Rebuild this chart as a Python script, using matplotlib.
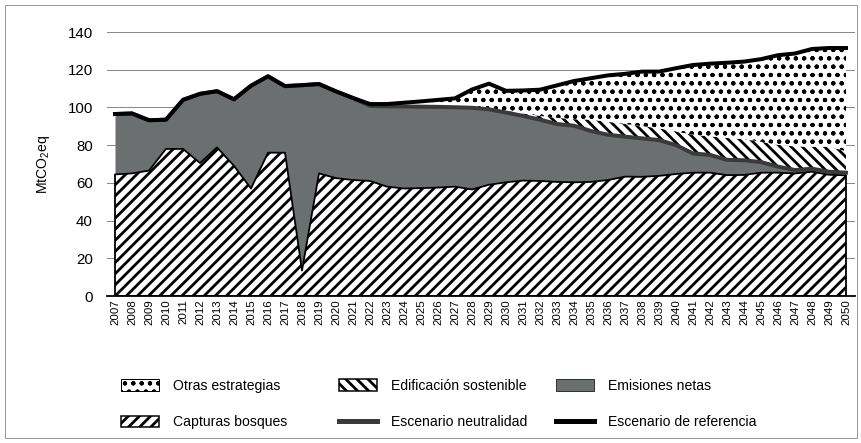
import numpy as np
import matplotlib
matplotlib.use("Agg")
import matplotlib.pyplot as plt
from matplotlib.patches import Patch, Rectangle
from matplotlib.lines import Line2D

plt.rcParams['font.family'] = ['Liberation Sans Narrow', 'Liberation Sans', 'DejaVu Sans']
plt.rcParams['mathtext.fontset'] = 'custom'
plt.rcParams['mathtext.rm'] = 'Liberation Sans'
plt.rcParams['mathtext.it'] = 'Liberation Sans'
plt.rcParams['hatch.linewidth'] = 2.0

years = list(range(2007, 2051))

capturas = [64.5, 65.0, 66.5, 78.0, 78.0, 70.5, 78.8, 69.0, 57.0, 76.0,
            76.0, 13.5, 65.0, 62.5, 61.5, 61.0, 58.0, 57.0, 57.2, 57.5,
            58.0, 56.5, 59.0, 60.3, 61.2, 61.0, 60.5, 60.3, 60.5, 61.5,
            63.3, 63.2, 63.7, 64.7, 65.4, 65.4, 64.1, 64.2, 65.4, 65.4,
            65.0, 65.9, 64.3, 64.0]

neutralidad = [96.5, 96.8, 93.2, 93.5, 104.0, 107.2, 108.6, 104.3, 111.5, 116.5,
               111.3, 111.8, 112.4, 108.5, 105.0, 100.8, 100.6, 100.5, 100.4, 100.3,
               100.1, 99.8, 99.0, 97.3, 95.5, 93.5, 91.2, 90.3, 87.5, 85.5,
               84.5, 83.6, 82.7, 80.0, 75.6, 74.8, 72.2, 72.0, 71.0, 68.6,
               66.8, 67.5, 65.9, 65.4]

referencia = [96.5, 96.8, 93.2, 93.5, 104.0, 107.2, 108.6, 104.3, 111.5, 116.5,
              111.3, 111.8, 112.4, 108.5, 105.0, 101.8, 101.8, 102.5, 103.2, 104.0,
              104.8, 109.5, 112.6, 108.8, 109.0, 109.4, 111.7, 114.0, 115.5, 117.0,
              117.8, 119.0, 119.0, 120.8, 122.5, 123.2, 123.7, 124.3, 125.6, 127.7,
              128.6, 131.0, 131.5, 131.5]

edificacion = [0.0] * 20 + [0.1, 0.5, 0.8, 1.0, 1.3, 2.0, 3.3, 3.5, 6.0, 6.9,
                            6.7, 6.5, 6.2, 7.2, 9.9, 9.9, 11.6, 11.2, 10.8, 11.6,
                            12.5, 11.7, 13.3, 11.4]

yticks = [0, 20, 40, 60, 80, 100, 120, 140]

x = np.array(years)
capt = np.array(capturas)
neut = np.array(neutralidad)
ref = np.array(referencia)
edif = np.array(edificacion)
netas = neut - capt
otras = ref - neut - edif

DPI = 100
W, H = 862, 443
PT = 72 / DPI  # points per pixel
fig = plt.figure(figsize=(W / DPI, H / DPI), dpi=DPI)
fig.patch.set_facecolor('white')
fig.add_artist(Rectangle((5 / W, 5 / H), (W - 10) / W, (H - 10) / H, transform=fig.transFigure,
                         fill=False, edgecolor='#9a9a9a', linewidth=1 * PT))

ax = fig.add_axes([107 / W, 1 - 296 / H, (855 - 107) / W, (296 - 32) / H])
ax.set_xlim(2007 - 8 / 17, 2050 + 9 / 17)
ax.set_ylim(0, 140)

grey = '#6b6f70'
b0 = np.zeros_like(capt)
b1 = capt
b2 = capt + netas
b3 = b2 + edif
b4 = b3 + otras

H_CAPT = '///'
H_EDIF = '\\\\\\'
PER_ARTIST = hasattr(matplotlib.patches.Patch, 'set_hatch_linewidth')
H_DOTS = 'oo..' if PER_ARTIST else '..'
DOT_LW = 1.0 * PT


def dotify(artist):
    if PER_ARTIST and hasattr(artist, 'set_hatch_linewidth'):
        artist.set_hatch_linewidth(DOT_LW)


ax.fill_between(x, b0, b1, facecolor='white', edgecolor='black', hatch=H_CAPT, linewidth=1.8 * PT, zorder=3)
ax.fill_between(x, b1, b2, facecolor=grey, edgecolor=grey, linewidth=0, zorder=2)
ax.fill_between(x, b2, b3, facecolor='white', edgecolor='black', hatch=H_EDIF, linewidth=0, zorder=2)
dots = ax.fill_between(x, b3, b4, facecolor='white', edgecolor='black', hatch=H_DOTS, linewidth=0, zorder=2)
dotify(dots)
ax.plot(x, neut, color='#3a3a3a', linewidth=4 * PT, zorder=4, solid_joinstyle='round')
ax.plot(x, ref, color='black', linewidth=4 * PT, zorder=5, solid_joinstyle='round')

ax.set_yticks(yticks)
ax.set_xticks(years)
ax.set_xticklabels([str(y) for y in years], rotation=90, fontsize=11.5 * PT)
ax.tick_params(axis='x', length=0, pad=3 * PT)
ax.tick_params(axis='y', length=0, pad=14 * PT, labelsize=15 * PT)
ax.grid(axis='y', color='#8a8a8a', linewidth=1 * PT, zorder=0)
ax.set_axisbelow(True)
for s in ['top', 'right', 'left']:
    ax.spines[s].set_visible(False)
ax.spines['bottom'].set_color('black')
ax.spines['bottom'].set_linewidth(1.8 * PT)
ax.spines['bottom'].set_zorder(6)
ax.set_ylabel('MtCO$_2$eq', fontsize=14 * PT, labelpad=16 * PT)

h_otras = Patch(facecolor='white', edgecolor='black', hatch=H_DOTS, linewidth=1 * PT)
h_capt = Patch(facecolor='white', edgecolor='black', hatch=H_CAPT, linewidth=1.5 * PT)
h_edif = Patch(facecolor='white', edgecolor='black', hatch=H_EDIF, linewidth=1.5 * PT)
h_neut = Line2D([], [], color='#3a3a3a', linewidth=5 * PT)
h_net = Patch(facecolor=grey, edgecolor='#333333', linewidth=1 * PT)
h_ref = Line2D([], [], color='black', linewidth=5 * PT)

cols = [([h_otras, h_capt], ['Otras estrategias', 'Capturas bosques'], 121),
        ([h_edif, h_neut], ['Edificación sostenible', 'Escenario neutralidad'], 339),
        ([h_net, h_ref], ['Emisiones netas', 'Escenario de referencia'], 556)]
for hs, ls, xp in cols:
    leg = fig.legend(hs, ls, loc='upper left', bbox_to_anchor=(xp / W, 1 - 379 / H), frameon=False,
                     fontsize=14 * PT, handlelength=2.7, handleheight=0.9, labelspacing=1.6,
                     handletextpad=1.0, borderpad=0, borderaxespad=0)
    for p in leg.get_patches():
        if p.get_hatch() == H_DOTS:
            dotify(p)

fig.savefig('out.png', dpi=DPI)
